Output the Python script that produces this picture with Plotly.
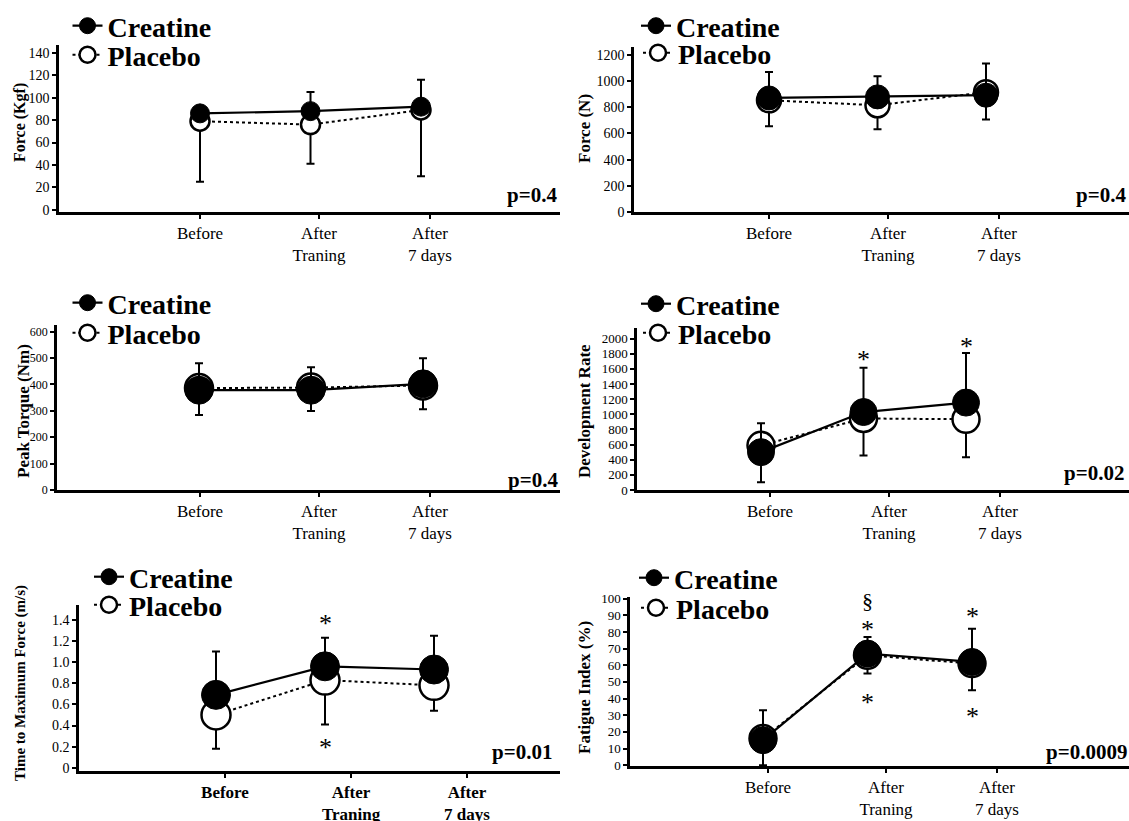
import plotly.graph_objects as go

W, H = 1129, 821

categories = ["Before", "After<br>Traning", "After<br>7 days"]
series_names = ["Creatine", "Placebo"]

# Panel 1: Force (Kgf)
kgf_creatine = [86, 88, 92]
kgf_placebo = [79, 76, 89]
kgf_creatine_err = [0, 17, 24]
kgf_placebo_err = [54, 35, 59]
kgf_ticks = [0, 20, 40, 60, 80, 100, 120, 140]

# Panel 2: Force (N)
n_creatine = [871, 879, 892]
n_placebo = [853, 815, 915]
n_creatine_err = [199, 158, 242]
n_placebo_err = [198, 183, 209]
n_ticks = [0, 200, 400, 600, 800, 1000, 1200]

# Panel 3: Peak Torque (Nm)
torque_creatine = [378, 378, 402]
torque_placebo = [386, 388, 396]
torque_creatine_err = [102, 87, 97]
torque_placebo_err = [102, 89, 90]
torque_ticks = [0, 100, 200, 300, 400, 500, 600]

# Panel 4: Development Rate
rate_creatine = [500, 1030, 1155]
rate_placebo = [590, 945, 935]
rate_creatine_err = [383, 586, 655]
rate_placebo_err = [489, 490, 502]
rate_ticks = [0, 200, 400, 600, 800, 1000, 1200, 1400, 1600, 1800, 2000]
rate_marks = [("*", 1, 1800), ("*", 2, 1978)]

# Panel 5: Time to Maximum Force (m/s)
time_creatine = [0.69, 0.96, 0.93]
time_placebo = [0.50, 0.83, 0.78]
time_creatine_err = [0.41, 0.27, 0.32]
time_placebo_err = [0.32, 0.42, 0.24]
time_ticks = [0, 0.2, 0.4, 0.6, 0.8, 1.0, 1.2, 1.4]
time_ticklabels = ["0", "0.2", "0.4", "0.6", "0.8", "1.0", "1.2", "1.4"]
time_marks = [("*", 1, 1.42), ("*", 1, 0.25)]

# Panel 6: Fatigue Index (%)
fatigue_creatine = [15, 67, 62]
fatigue_placebo = [16, 66, 61]
fatigue_creatine_err = [18, 10, 20]
fatigue_placebo_err = [16, 11, 16]
fatigue_ticks = [0, 10, 20, 30, 40, 50, 60, 70, 80, 90, 100]
fatigue_marks = [("§", 1, 99), ("*", 1, 85), ("*", 1, 41), ("*", 2, 93), ("*", 2, 33)]

y_titles = ["Force (Kgf)", "Force (N)", "Peak Torque (Nm)", "Development Rate",
            "Time to Maximum Force (m/s)", "Fatigue Index (%)"]
p_values = ["p=0.4", "p=0.4", "p=0.4", "p=0.02", "p=0.01", "p=0.0009"]

panels = [
    dict(cr=kgf_creatine, pl=kgf_placebo, cre=kgf_creatine_err, ple=kgf_placebo_err,
         ticks=kgf_ticks, labels=[str(t) for t in kgf_ticks], marks=[]),
    dict(cr=n_creatine, pl=n_placebo, cre=n_creatine_err, ple=n_placebo_err,
         ticks=n_ticks, labels=[str(t) for t in n_ticks], marks=[]),
    dict(cr=torque_creatine, pl=torque_placebo, cre=torque_creatine_err, ple=torque_placebo_err,
         ticks=torque_ticks, labels=[str(t) for t in torque_ticks], marks=[]),
    dict(cr=rate_creatine, pl=rate_placebo, cre=rate_creatine_err, ple=rate_placebo_err,
         ticks=rate_ticks, labels=[str(t) for t in rate_ticks], marks=rate_marks),
    dict(cr=time_creatine, pl=time_placebo, cre=time_creatine_err, ple=time_placebo_err,
         ticks=time_ticks, labels=time_ticklabels, marks=time_marks),
    dict(cr=fatigue_creatine, pl=fatigue_placebo, cre=fatigue_creatine_err, ple=fatigue_placebo_err,
         ticks=fatigue_ticks, labels=[str(t) for t in fatigue_ticks], marks=fatigue_marks),
]

# layout geometry in pixels (style only)
geom = [
    dict(left=59, right=560, top=45, bottom=212, m0=200, m2=421, tk=[200, 319, 430], yr=[-2, 147],
         ytf=14, xtf=17, xbold=False, ms=19, tt=(20, 123), tfs=16, pp=(559, 195),
         leg=[(87.5, 26), (87.5, 55)]),
    dict(left=634, right=1129, top=47, bottom=212, m0=769, m2=986, tk=[769, 888, 999], yr=[0, 1260],
         ytf=14, xtf=17, xbold=False, ms=24, tt=(584, 129), tfs=17, pp=(1128, 195),
         leg=[(656, 26), (658, 53)]),
    dict(left=57, right=560, top=325, bottom=490, m0=199, m2=423, tk=[200, 319, 430], yr=[0, 625],
         ytf=12, xtf=17, xbold=False, ms=28, tt=(23, 411), tfs=17, pp=(560, 480),
         leg=[(87.5, 303), (87.5, 333)]),
    dict(left=637, right=1129, top=328, bottom=490, m0=761, m2=966, tk=[770, 889, 1000], yr=[0, 2140],
         ytf=13, xtf=17, xbold=False, ms=27, tt=(584, 411), tfs=17, pp=(1126, 473),
         leg=[(656, 304), (658, 333)]),
    dict(left=79, right=560, top=605, bottom=771, m0=216, m2=434, tk=[225, 351, 467], yr=[-0.03, 1.54],
         ytf=14, xtf=17, xbold=True, ms=29, tt=(20, 683), tfs=15, pp=(554, 752),
         leg=[(109, 577), (109, 605)]),
    dict(left=630, right=1129, top=597, bottom=766, m0=763, m2=972, tk=[768, 886, 997], yr=[-0.5, 101],
         ytf=13, xtf=17, xbold=False, ms=27, tt=(584, 688), tfs=17, pp=(1129, 752),
         leg=[(654, 578), (656, 608)]),
]

SERIF = "Liberation Serif"
fig = go.Figure()
layout = {}
annotations = []


def legname(k):
    return "legend" if k == 1 else f"legend{k}"


for i, (p, g) in enumerate(zip(panels, geom)):
    s = "" if i == 0 else str(i + 1)
    unit = (g["m2"] - g["m0"]) / 2.0
    xr = [(g["left"] - g["m0"]) / unit, (g["right"] - g["m0"]) / unit]
    tickvals = [(t - g["m0"]) / unit for t in g["tk"]]
    xs = list(range(len(categories)))

    fig.add_trace(go.Scatter(
        x=xs, y=p["pl"], name=series_names[1], mode="lines+markers",
        xaxis="x" + s, yaxis="y" + s, legend=legname(2 * i + 2), cliponaxis=False,
        line=dict(color="black", width=2, dash="dot"),
        marker=dict(size=g["ms"], color="white", line=dict(color="black", width=2.5)),
        error_y=dict(type="data", symmetric=False, array=[0] * len(xs), arrayminus=p["ple"],
                     color="black", thickness=2, width=4),
    ))
    fig.add_trace(go.Scatter(
        x=xs, y=p["cr"], name=series_names[0], mode="lines+markers",
        xaxis="x" + s, yaxis="y" + s, legend=legname(2 * i + 1), cliponaxis=False,
        line=dict(color="black", width=2.2),
        marker=dict(size=g["ms"], color="black", line=dict(color="black", width=1)),
        error_y=dict(type="data", symmetric=False, array=p["cre"], arrayminus=[0] * len(xs),
                     color="black", thickness=2, width=4),
    ))

    layout["xaxis" + s] = dict(
        domain=[g["left"] / W, g["right"] / W], range=xr, anchor="y" + s,
        tickmode="array", tickvals=tickvals, ticktext=categories,
        showline=True, linecolor="black", linewidth=2.5, mirror=False,
        ticks="outside", ticklen=4, tickwidth=2, tickcolor="black",
        showgrid=False, zeroline=False, automargin=False, fixedrange=True,
        tickfont=dict(family=SERIF, size=g["xtf"], color="black",
                      weight="bold" if g["xbold"] else "normal"),
    )
    layout["yaxis" + s] = dict(
        domain=[1 - g["bottom"] / H, 1 - g["top"] / H], range=g["yr"], anchor="x" + s,
        tickmode="array", tickvals=p["ticks"], ticktext=p["labels"],
        showline=True, linecolor="black", linewidth=2.5,
        ticks="outside", ticklen=4, tickwidth=1.5, tickcolor="black",
        showgrid=False, zeroline=False, automargin=False, fixedrange=True,
        tickfont=dict(family=SERIF, size=g["ytf"], color="black"),
    )

    for k, (cx, cy) in enumerate(g["leg"]):
        layout[legname(2 * i + 1 + k)] = dict(
            x=(cx - 20) / W, y=1 - (cy - 25) / H, xanchor="left", yanchor="top",
            bgcolor="rgba(0,0,0,0)", borderwidth=0,
            font=dict(family=SERIF, size=28, color="black", weight="bold"),
        )

    annotations.append(dict(
        text="<b>" + y_titles[i] + "</b>", x=g["tt"][0] / W, y=1 - g["tt"][1] / H,
        xref="paper", yref="paper", textangle=-90, showarrow=False,
        xanchor="center", yanchor="middle",
        font=dict(family=SERIF, size=g["tfs"], color="black"),
    ))
    annotations.append(dict(
        text="<b>" + p_values[i] + "</b>", x=g["pp"][0] / W, y=1 - g["pp"][1] / H,
        xref="paper", yref="paper", showarrow=False, xanchor="right", yanchor="middle",
        font=dict(family=SERIF, size=21, color="black"),
    ))
    for (txt, mx, my) in p["marks"]:
        annotations.append(dict(
            text=txt, x=mx, y=my, xref="x" + s, yref="y" + s, showarrow=False,
            xanchor="center", yanchor="middle", yshift=-6 if txt == "*" else 0,
            font=dict(family=SERIF, size=26 if txt == "*" else 22, color="black"),
        ))

fig.update_layout(
    width=W, height=H, template="none",
    margin=dict(l=0, r=0, t=0, b=0, pad=0),
    paper_bgcolor="white", plot_bgcolor="white",
    showlegend=True, annotations=annotations,
    **layout,
)

fig.write_html("out.html", config={"displayModeBar": False},
               post_script="document.body.style.margin='0px';")
